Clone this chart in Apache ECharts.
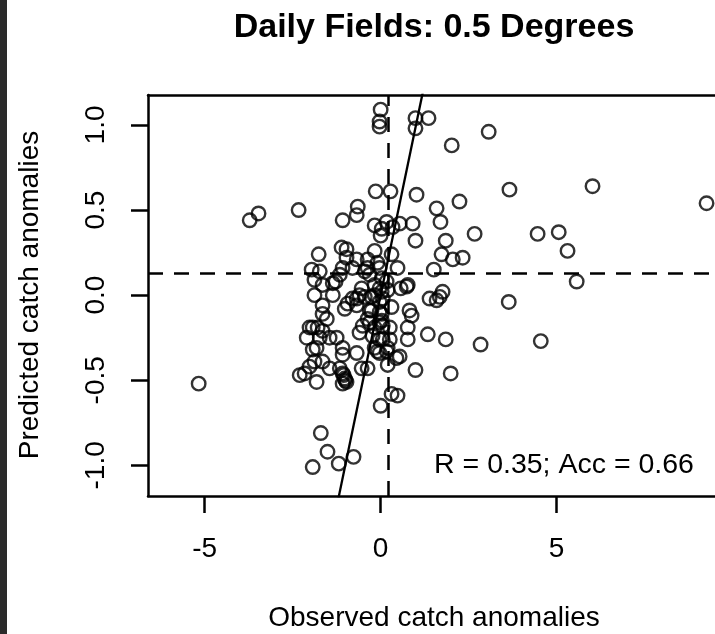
<!DOCTYPE html>
<html>
<head>
<meta charset="utf-8">
<script src="https://cdn.jsdelivr.net/npm/echarts@6/dist/echarts.min.js"></script>
<style>
html,body{margin:0;padding:0;background:#fff;}
#chart{width:715px;height:634px;}
</style>
</head>
<body>
<div id="chart"></div>
<script>
// ---- data ----
const observed = [
  0.00,-0.03,-0.03,0.99,1.36,0.99,3.07,2.02,-3.72,-3.47,
  -2.33,-1.08,-0.68,-0.65,-0.14,0.28,1.02,3.66,6.02,9.26,
  2.24,1.59,1.70,0.91,0.54,-0.17,0.17,0.03,0.00,0.99,
  1.85,2.67,4.46,5.06,5.31,1.73,2.05,2.33,1.51,5.57,
  0.74,0.57,0.34,-1.76,-1.11,-0.97,-0.97,-0.68,-0.17,0.31,
  0.48,-0.37,-0.03,-1.96,-1.73,-1.88,-1.65,-1.88,-1.65,-1.65,
  -1.36,-1.36,-1.16,-1.08,-0.80,-0.45,-0.54,-0.68,-0.45,-0.94,
  -1.02,-0.17,-0.26,-0.03,-0.26,0.03,0.03,0.31,0.82,0.77,
  1.39,1.59,1.68,1.76,3.64,0.77,1.34,1.85,0.77,2.84,
  4.55,0.54,0.99,1.99,0.31,0.48,0.00,-1.70,-1.51,-1.93,
  -1.19,-0.77,-5.17,-2.10,-2.02,-1.79,-1.65,-1.73,-1.82,-1.53,
  -1.45,-1.25,-1.08,-1.08,-0.68,-1.88,-1.65,-2.02,-2.30,-2.16,
  -1.82,-1.45,-1.16,-1.08,-1.02,-1.08,-0.97,-0.60,-0.51,-0.54,
  -0.37,-0.17,0.06,0.26,0.06,0.26,-0.17,-0.03,0.20,0.45,
  0.20,-0.37,0.88,-0.09,0.17,-0.60,-0.80,-0.68,-0.31,-0.03,
  0.03,-0.23,-0.03,-1.93,-1.93,-1.28,-0.03,0.17,-0.31,-0.03,
  0.06,-0.37,-0.09,-0.31,0.03,-0.17,0.20,-1.05,-1.00
];
const predicted = [
  1.09,1.02,0.99,1.04,1.04,0.98,0.96,0.88,0.44,0.48,
  0.50,0.44,0.47,0.52,0.61,0.61,0.59,0.62,0.64,0.54,
  0.55,0.51,0.43,0.42,0.42,0.41,0.43,0.39,0.35,0.32,
  0.32,0.36,0.36,0.37,0.26,0.24,0.21,0.22,0.15,0.08,
  0.05,0.04,0.40,0.24,0.28,0.27,0.22,0.21,0.26,0.24,
  0.16,0.16,0.16,0.15,0.14,0.09,0.06,0.00,-0.06,-0.11,
  0.00,0.07,0.12,0.16,0.16,0.14,0.04,-0.02,-0.01,-0.05,
  -0.08,0.06,-0.01,-0.04,-0.09,-0.11,0.02,-0.07,-0.09,0.06,
  -0.02,-0.03,-0.01,0.02,-0.04,-0.19,-0.23,-0.26,-0.26,-0.29,
  -0.27,-0.36,-0.44,-0.46,-0.58,-0.59,-0.65,-0.81,-0.92,-1.01,
  -0.99,-0.95,-0.52,-0.25,-0.19,-0.19,-0.21,-0.25,-0.31,-0.14,
  -0.25,-0.25,-0.31,-0.35,-0.34,-0.39,-0.39,-0.42,-0.47,-0.46,
  -0.51,-0.43,-0.43,-0.46,-0.49,-0.52,-0.51,-0.22,-0.18,-0.43,
  -0.14,-0.19,-0.18,-0.19,-0.26,-0.26,-0.31,-0.34,-0.31,-0.37,
  -0.41,-0.43,-0.12,-0.33,-0.33,0.00,-0.02,-0.06,-0.09,-0.10,
  -0.15,-0.24,-0.26,-0.32,-0.19,0.08,0.04,0.08,-0.16,-0.16,
  -0.02,0.21,0.19,0.12,0.10,0.00,0.03,-0.47,-0.50
];
const xTicks = [-5, 0, 5];
const yTicks = [-1.0, -0.5, 0.0, 0.5, 1.0];
const fitIntercept = 0.0;
const fitSlope = 0.995;
const meanObserved = 0.207;
const meanPredicted = 0.134;
const statsText = 'R = 0.35; Acc = 0.66';
const titleText = 'Daily Fields: 0.5 Degrees';
const xTitle = 'Observed catch anomalies';
const yTitle = 'Predicted catch anomalies';

// ---- build ----
const points = observed.map((x, i) => [x, predicted[i]]);
const xMin = -6.61, xMax = 9.50, yMin = -1.18, yMax = 1.176;
const fitLine = [xMin, xMax].map(x => [x, fitIntercept + fitSlope * x]);
const FONT = '"Liberation Sans", Arial, Helvetica, sans-serif';
const AXW = 2.5;

const chart = echarts.init(document.getElementById('chart'), null, {renderer: 'canvas'});
chart.setOption({
  animation: false,
  backgroundColor: '#ffffff',
  grid: {left: 148, top: 95, right: 0, bottom: 138, show: false},
  xAxis: [
    {
      type: 'value', min: xMin, max: xMax, position: 'bottom',
      axisLine: {show: true, onZero: false, lineStyle: {color: '#000', width: AXW}},
      axisTick: {show: true, inside: false, length: 17, customValues: xTicks, lineStyle: {color: '#000', width: AXW}},
      axisLabel: {show: true, customValues: xTicks, margin: 39, color: '#000', fontSize: 28, fontFamily: FONT,
        formatter: v => String(v)},
      splitLine: {show: false}
    },
    {
      type: 'value', min: xMin, max: xMax, position: 'top',
      axisLine: {show: true, onZero: false, lineStyle: {color: '#000', width: AXW}},
      axisTick: {show: false}, axisLabel: {show: false}, splitLine: {show: false}
    }
  ],
  yAxis: {
    type: 'value', min: yMin, max: yMax,
    axisLine: {show: true, onZero: false, lineStyle: {color: '#000', width: AXW}},
    axisTick: {show: true, inside: false, length: 17, customValues: yTicks, lineStyle: {color: '#000', width: AXW}},
    axisLabel: {show: true, customValues: yTicks, rotate: 90, margin: 38, color: '#000', fontSize: 28, fontFamily: FONT,
      formatter: v => Number(v).toFixed(1)},
    splitLine: {show: false}
  },
  series: [
    {
      type: 'scatter',
      data: points,
      symbol: 'circle',
      symbolSize: 13.5,
      itemStyle: {color: 'rgba(0,0,0,0)', borderColor: '#000', borderWidth: 2.4},
      emphasis: {disabled: true},
      silent: true,
      z: 3
    },
    {
      type: 'line',
      data: fitLine,
      showSymbol: false,
      symbol: 'none',
      clip: true,
      lineStyle: {color: '#000', width: 2.3},
      silent: true,
      z: 4,
      markLine: {
        silent: true,
        symbol: 'none',
        label: {show: false},
        lineStyle: {color: '#000', width: 2.5, type: [15, 11]},
        data: [
          {yAxis: meanPredicted},
          {xAxis: meanObserved}
        ]
      }
    }
  ],
  graphic: [
    {type: 'rect', left: 0, top: 0, shape: {width: 7, height: 634}, style: {fill: '#2b2b2b'}, silent: true},
    {type: 'text', x: 434, y: 28, style: {text: titleText, fill: '#000', font: 'bold 34px ' + FONT, align: 'center', verticalAlign: 'middle'}},
    {type: 'text', x: 434, y: 618, style: {text: xTitle, fill: '#000', font: '28px ' + FONT, align: 'center', verticalAlign: 'middle'}},
    {type: 'text', x: 30, y: 295, rotation: Math.PI / 2, style: {text: yTitle, fill: '#000', font: '28px ' + FONT, align: 'center', verticalAlign: 'middle'}},
    {type: 'text', x: 564, y: 465, style: {text: statsText, fill: '#000', font: '28.5px ' + FONT, align: 'center', verticalAlign: 'middle'}}
  ]
});
</script>
</body>
</html>
